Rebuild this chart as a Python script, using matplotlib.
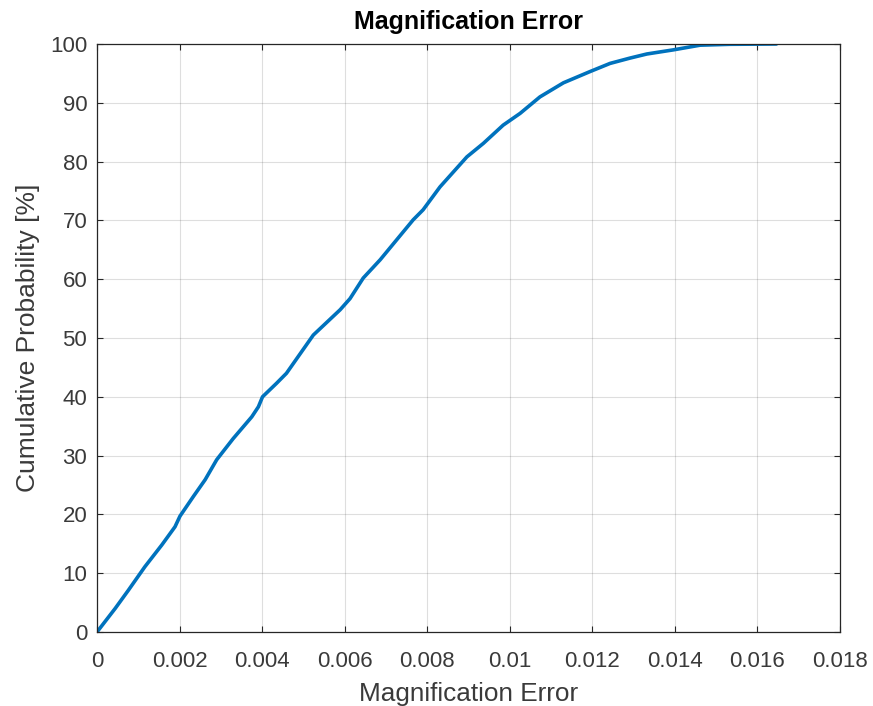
import matplotlib
matplotlib.use("Agg")
import matplotlib.pyplot as plt

x_err = [0.0, 0.00044, 0.00076, 0.00116, 0.00157, 0.00189, 0.00201, 0.00233, 0.00262,
         0.0029, 0.0033, 0.00375, 0.00391, 0.00401, 0.00435, 0.00459, 0.00524, 0.00589,
         0.00613, 0.00645, 0.00686, 0.00766, 0.0079, 0.00831,
         0.00896, 0.00936, 0.00984, 0.01025, 0.01073, 0.0113, 0.01194, 0.01243, 0.01291,
         0.01332, 0.01396, 0.01461, 0.01533, 0.01646]
y_prob = [0.0, 4.0, 7.1, 11.1, 14.8, 17.9, 19.7, 23.0, 25.9,
          29.3, 32.9, 36.6, 38.3, 40.0, 42.3, 44.0, 50.5, 54.8,
          56.7, 60.2, 63.3, 70.1, 71.8, 75.7,
          80.8, 83.1, 86.2, 88.2, 91.0, 93.4, 95.3, 96.7, 97.6,
          98.3, 99.0, 99.8, 99.95, 100.0]
x_ticks = [0, 0.002, 0.004, 0.006, 0.008, 0.01, 0.012, 0.014, 0.016, 0.018]
x_tick_labels = ["0", "0.002", "0.004", "0.006", "0.008", "0.01", "0.012", "0.014", "0.016", "0.018"]
y_ticks = list(range(0, 101, 10))

plt.rcParams['font.family'] = ['Liberation Sans', 'DejaVu Sans']
fig = plt.figure(figsize=(8.73, 7.06), dpi=100)
ax = fig.add_axes([97/873, 74/706, 743/873, 588/706])
ax.plot(x_err, y_prob, color='#0072BD', linewidth=2.6, solid_joinstyle='round',
        solid_capstyle='round')
ax.set_xlim(0, 0.018)
ax.set_ylim(0, 100)
ax.set_xticks(x_ticks)
ax.set_xticklabels(x_tick_labels)
ax.set_yticks(y_ticks)
ax.grid(True, color='#262626', alpha=0.15, linewidth=0.8)
ax.tick_params(direction='in', top=True, right=True, length=4, width=0.8,
               colors='#262626', labelsize=16, labelcolor='#3a3a3a')
ax.tick_params(axis='x', pad=14)
ax.tick_params(axis='y', pad=7)
for s in ax.spines.values():
    s.set_color('#262626')
    s.set_linewidth(0.9)
ax.set_xlabel('Magnification Error', fontsize=18.8, color='#3a3a3a', labelpad=7)
ax.set_ylabel('Cumulative Probability [%]', fontsize=19, color='#3a3a3a', labelpad=7)
ax.set_title('Magnification Error', fontsize=18, fontweight='bold', color='black', pad=11)
fig.savefig('out.png', dpi=100)
